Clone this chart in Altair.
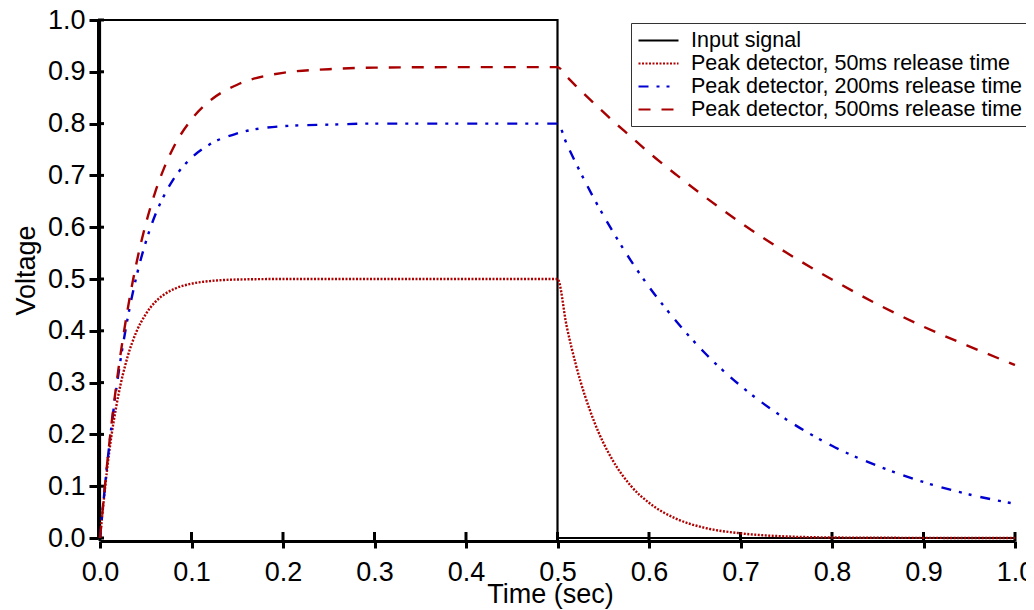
import altair as alt
import pandas as pd

series_names = ["Input signal",
                "Peak detector, 50ms release time",
                "Peak detector, 200ms release time",
                "Peak detector, 500ms release time"]

input_t = [0.0, 0.0, 0.5, 0.5, 1.0]
input_v = [0.0, 1.0, 1.0, 0.0, 0.0]

time = [0.00, 0.01, 0.02, 0.03, 0.04, 0.05, 0.06, 0.07, 0.08, 0.10, 0.12, 0.15,
        0.20, 0.25, 0.30, 0.40, 0.50, 0.51, 0.52, 0.54, 0.56, 0.58, 0.60, 0.63,
        0.66, 0.70, 0.75, 0.80, 0.85, 0.90, 0.95, 1.00]

v50 = [0.000, 0.165, 0.275, 0.349, 0.399, 0.432, 0.455, 0.470, 0.480, 0.491, 0.496, 0.499,
       0.500, 0.500, 0.500, 0.500, 0.500, 0.409, 0.335, 0.225, 0.151, 0.101, 0.068, 0.037,
       0.020, 0.009, 0.003, 0.001, 0.0005, 0.0002, 0.0001, 0.000]

v200 = [0.000, 0.177, 0.315, 0.422, 0.506, 0.571, 0.622, 0.661, 0.692, 0.734, 0.760, 0.781,
        0.795, 0.798, 0.800, 0.800, 0.800, 0.761, 0.724, 0.655, 0.593, 0.536, 0.485, 0.418,
        0.359, 0.294, 0.229, 0.178, 0.139, 0.108, 0.084, 0.066]

v500 = [0.000, 0.180, 0.324, 0.439, 0.532, 0.606, 0.666, 0.714, 0.753, 0.808, 0.844, 0.875,
        0.898, 0.905, 0.908, 0.909, 0.909, 0.891, 0.873, 0.839, 0.806, 0.775, 0.744, 0.701,
        0.660, 0.609, 0.551, 0.499, 0.451, 0.408, 0.370, 0.334]

tick_values = [0.0, 0.1, 0.2, 0.3, 0.4, 0.5, 0.6, 0.7, 0.8, 0.9, 1.0]

colors = ["#000000", "#b00000", "#0000d0", "#a80000"]
dashes = [[1, 0], [2, 1.5], [10, 8, 3, 7, 3, 9], [12, 11]]

FONT = "Arial"

inp = pd.DataFrame({"t": input_t, "v": input_v, "series": series_names[0],
                    "idx": list(range(len(input_t)))})
rows = []
for name, vals in zip(series_names[1:], [v50, v200, v500]):
    for i, (t, v) in enumerate(zip(time, vals)):
        rows.append({"t": t, "v": v, "series": name, "idx": i})
det = pd.DataFrame(rows)
ticks = pd.DataFrame({"p": tick_values})

x_scale = alt.Scale(domain=[0, 1], nice=False)
y_scale = alt.Scale(domain=[0, 1], nice=False)

x_axis = alt.Axis(values=tick_values, format=".1f", grid=False, offset=3,
                  domainColor="black", domainWidth=3, tickColor="black", tickWidth=3,
                  tickSize=7, labelFont=FONT, labelFontSize=27, labelColor="black",
                  labelPadding=11, labelFlush=False, labelOverlap=False,
                  title="Time (sec)", titleFont=FONT, titleFontSize=27,
                  titleFontWeight="normal", titleColor="black",
                  titleX=450, titleY=61, titleAlign="center", titleBaseline="alphabetic")
y_axis = alt.Axis(values=tick_values, format=".1f", grid=False, offset=2,
                  domainColor="black", domainWidth=3, tickColor="black", tickWidth=3,
                  tickSize=9, labelFont=FONT, labelFontSize=27, labelColor="black",
                  labelPadding=4, labelFlush=False, labelOverlap=False,
                  title="Voltage", titleFont=FONT, titleFontSize=27,
                  titleFontWeight="normal", titleColor="black", titleAngle=270,
                  titleX=-72, titleY=250, titleAlign="center", titleBaseline="middle")

legend = alt.Legend(title=None, orient="none", legendX=531, legendY=3,
                    symbolType="M-1,0H3", symbolSize=400,
                    symbolStrokeWidth=2.2, labelFont=FONT,
                    labelFontSize=21.5, labelColor="black",
                    labelOffset=31, labelLimit=500, rowPadding=1,
                    padding=6, strokeColor="#333333", fillColor="white")

color_enc = alt.Color("series:N",
                      scale=alt.Scale(domain=series_names, range=colors),
                      legend=legend)
dash_enc = alt.StrokeDash("series:N",
                          scale=alt.Scale(domain=series_names, range=dashes),
                          legend=legend)

input_line = alt.Chart(inp).mark_line(strokeWidth=2.2, clip=False).encode(
    x=alt.X("t:Q", scale=x_scale, axis=x_axis),
    y=alt.Y("v:Q", scale=y_scale, axis=y_axis),
    color=color_enc,
    strokeDash=dash_enc,
    order="idx:Q",
)

det_lines = alt.Chart(det).mark_line(strokeWidth=2.4, interpolate="monotone").encode(
    x=alt.X("t:Q", scale=x_scale),
    y=alt.Y("v:Q", scale=y_scale),
    color=color_enc,
    strokeDash=dash_enc,
    order="idx:Q",
)

x_in_ticks = alt.Chart(ticks).mark_rule(color="black", strokeWidth=3).encode(
    x=alt.X("p:Q", scale=x_scale),
    y=alt.value(512),
    y2=alt.value(521),
)
y_in_ticks = alt.Chart(ticks).mark_rule(color="black", strokeWidth=3).encode(
    y=alt.Y("p:Q", scale=y_scale),
    x=alt.value(-2),
    x2=alt.value(4),
)

chart = alt.layer(x_in_ticks, y_in_ticks, input_line, det_lines).properties(
    width=915, height=518,
    autosize=alt.AutoSizeParams(type="none"),
    padding={"left": 92, "top": 12, "right": 11, "bottom": 72},
    background="white",
).configure_view(strokeWidth=0)

chart.save("out.html", embed_options={"renderer": "svg", "actions": False})
